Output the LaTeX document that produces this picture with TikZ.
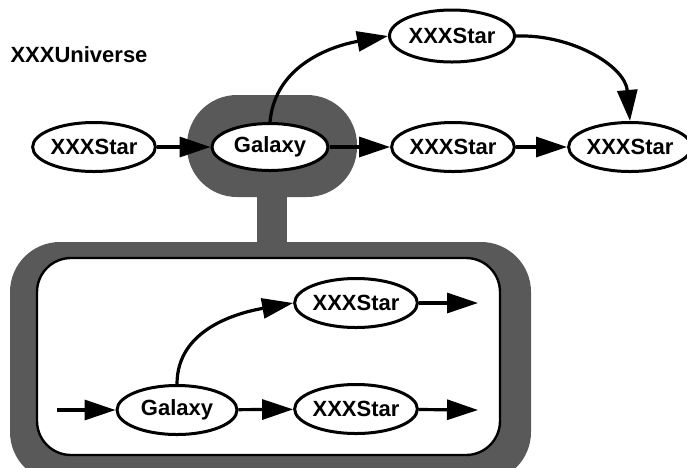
\documentclass[tikz,border=0pt]{standalone}
\usepackage{fontspec}
\setsansfont{Liberation Sans}
\usepackage{tikz}
\usetikzlibrary{arrows.meta,shapes.geometric}

\begin{document}
\begin{tikzpicture}[x=1pt,y=-1pt]
\tikzstyle{label}=[font=\sffamily\bfseries\fontsize{22}{26}\selectfont]
\tikzstyle{cell}=
[
	label, draw, ellipse, line width=3pt, fill=white,
	minimum width=120pt, minimum height=49pt, inner sep=0pt
]
\tikzstyle{link}=[line width=3.2pt, -{Triangle[length=31pt,width=20pt]}]
\tikzstyle{halo}=[fill=black!65]

\useasboundingbox (0,0) rectangle (687,467);

\fill[halo, rounded corners=50pt] (187,95) rectangle (357,197);
\fill[halo] (257,190) rectangle (287,250);
\fill[halo, rounded corners=50pt] (10,242) rectangle (531,482);
\filldraw[fill=white, line width=2.4pt, rounded corners=34pt] (37,258) rectangle (500,455);

\node[label] (uni) at (79,55) {XXXUniverse};

\node[cell] (s1) at (94,147) {XXXStar};
\node[cell, minimum width=116pt, minimum height=47pt] (gal) at (270,147) {Galaxy};
\node[cell, minimum width=125pt, minimum height=52pt] (ts) at (452,36) {XXXStar};
\node[cell] (ms) at (453,147) {XXXStar};
\node[cell, minimum width=115pt] (rs) at (630,147) {XXXStar};

\node[cell] (ig) at (177,410) {Galaxy};
\node[cell, minimum width=122pt] (is1) at (356,303) {XXXStar};
\node[cell, minimum width=122pt] (is2) at (356,409) {XXXStar};
\coordinate (in) at (57,410);
\coordinate (out1) at (478,303);
\coordinate (out2) at (478,410);

\draw[link] (s1) -- (gal);
\draw[link] (gal) -- (ms);
\draw[link] (ms) -- (rs);
\draw[link] (gal.north) to[out=85,in=190] (ts.west);
\draw[link] (ts.east) to[out=2,in=95] (rs.north);

\draw[link] (in) -- (ig);
\draw[link] (ig) -- (is2);
\draw[link] (ig.north) to[out=90,in=190] (is1.west);
\draw[link] (is1) -- (out1);
\draw[link] (is2) -- (out2);
\end{tikzpicture}
\end{document}
